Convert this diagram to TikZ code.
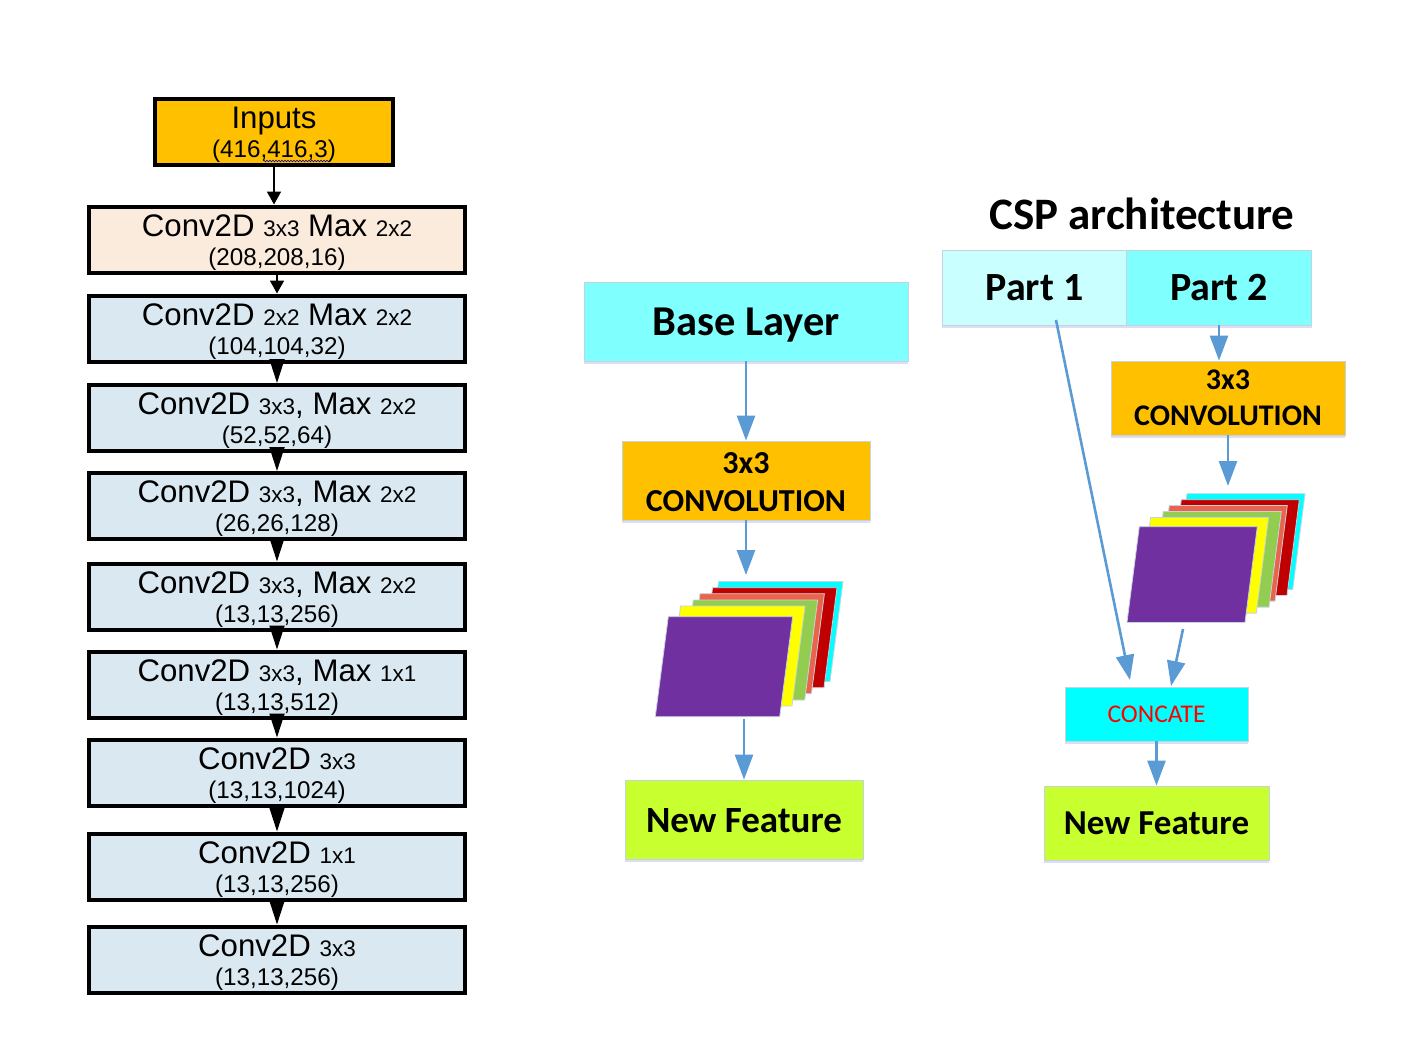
\documentclass[tikz,border=0pt]{standalone}
\usepackage{fontspec}
\setmainfont{Liberation Sans}
\newfontfamily\calib{Carlito}
\usetikzlibrary{arrows.meta,shadows,decorations.pathmorphing}
\newcommand\fsz[1]{\fontsize{#1}{#1}\selectfont}
\newcommand\fbg{\fsz{31.2}}
\newcommand\fsm{\fsz{22.5}}
\newcommand\fdm{\fsz{24.2}}
\newcommand\topfix{\rule{0pt}{27.5pt}}
\newcommand\layer[8]{\draw[layeredge,fill=#8] (#1,#2) -- ++(#3,0) -- ++(#4,#5) -- ++(#6,0) -- cycle;}
\tikzset{
  softshadow/.style={drop shadow={shadow xshift=0pt,shadow yshift=-3pt,opacity=.18,fill=blue!50!gray}},
  netbox/.style={draw=black,line width=4pt,minimum width=376pt,minimum height=66pt,inner sep=0pt,align=center,fill=netblue,font=\fbg},
  flatbox/.style={draw=paleedge,line width=.8pt,inner sep=0pt,align=center,softshadow},
  layeredge/.style={draw=paleedge,line width=.8pt},
  blackhead/.style={draw=black,line width=1.8pt,-{Triangle[length=24pt,width=15pt]}},
  smallhead/.style={draw=black,line width=1.8pt,-{Triangle[length=13pt,width=14pt]}},
  bluearrow/.style={draw=arrowblue,line width=2.6pt,-{Triangle[length=25pt,width=18pt]}}
}
\definecolor{netblue}{HTML}{DAE9F1}
\definecolor{netpeach}{HTML}{FBEBDD}
\definecolor{gold}{HTML}{FFC000}
\definecolor{aqua}{HTML}{80FFFF}
\definecolor{paleaqua}{HTML}{C9FFFF}
\definecolor{lime}{HTML}{C8FF2E}
\definecolor{paleedge}{HTML}{C5D3E0}
\definecolor{arrowblue}{HTML}{5B9BD5}
\definecolor{dkred}{HTML}{C00000}
\definecolor{salmon}{HTML}{E9644A}
\definecolor{leaf}{HTML}{92CD50}
\definecolor{violet7}{HTML}{7030A0}
\definecolor{purecyan}{HTML}{00FFFF}
\definecolor{pureyellow}{HTML}{FFFF00}
\definecolor{purered}{HTML}{FF0000}
\begin{document}
\begin{tikzpicture}[x=1pt,y=-1pt]
\useasboundingbox (0,0) rectangle (1425,1039);
% left network
\node[netbox,fill=gold,minimum width=238pt] (in) at (274,132) {\topfix Inputs\\[-2pt]\fdm (416,416,3)};
\node[netbox,fill=netpeach] (c1) at (277,239.5) {\topfix Conv2D {\fsm 3x3} Max {\fsm 2x2}\\[-2pt]\fdm (208,208,16)};
\node[netbox] (c2) at (277,328.5) {\topfix Conv2D {\fsm 2x2} Max {\fsm 2x2}\\[-2pt]\fdm (104,104,32)};
\node[netbox] (c3) at (277,418) {\topfix Conv2D {\fsm 3x3}, Max {\fsm 2x2}\\[-2pt]\fdm (52,52,64)};
\node[netbox] (c4) at (277,506) {\topfix Conv2D {\fsm 3x3}, Max {\fsm 2x2}\\[-2pt]\fdm (26,26,128)};
\node[netbox] (c5) at (277,596.5) {\topfix Conv2D {\fsm 3x3}, Max {\fsm 2x2}\\[-2pt]\fdm (13,13,256)};
\node[netbox] (c6) at (277,684.5) {\topfix Conv2D {\fsm 3x3}, Max {\fsm 1x1}\\[-2pt]\fdm (13,13,512)};
\node[netbox] (c7) at (277,772.5) {\topfix Conv2D {\fsm 3x3}\\[-2pt]\fdm (13,13,1024)};
\node[netbox] (c8) at (277,866.5) {\topfix Conv2D {\fsm 1x1}\\[-2pt]\fdm (13,13,256)};
\node[netbox] (c9) at (277,959.5) {\topfix Conv2D {\fsm 3x3}\\[-2pt]\fdm (13,13,256)};
\draw[blue!70!black,line width=.6pt,decorate,decoration={snake,amplitude=.8pt,segment length=3pt}] (263,161) -- (330,161);
\draw[smallhead] (in.south) -- (in.south |- c1.north);
\draw[smallhead] (c1.south) -- (c2.north);
\foreach \a/\b in {c2/c3,c3/c4,c4/c5,c5/c6,c6/c7,c7/c8,c8/c9}
  \draw[blackhead] (\a.south) -- (\b.north);
% middle column
\node[flatbox,fill=aqua,minimum width=324pt,minimum height=79pt,font=\calib\bfseries\fsz{42.5}] (base) at (746,321.5) {\rule{0pt}{35pt}Base Layer};
\node[flatbox,fill=gold,minimum width=248pt,minimum height=79pt,font=\calib\bfseries\fsz{32}] (conva) at (746,480.5) {\rule{0pt}{25pt}3x3\\[6pt]CONVOLUTION};
\node[flatbox,fill=lime,minimum width=238pt,minimum height=79pt,font=\calib\bfseries\fsz{37}] (newa) at (744,819.5) {\rule{0pt}{27pt}New Feature};
\layer{718.6}{581.4}{124.4}{-13}{100}{-124.4}{}{purecyan}
\layer{712.6}{587.7}{124.4}{-13}{100}{-124.4}{}{dkred}
\layer{700}{593.7}{124.4}{-13}{100}{-124.4}{}{salmon}
\layer{693.3}{600}{124.4}{-13}{100}{-124.4}{}{leaf}
\layer{680.6}{606}{124.4}{-13}{100}{-124.4}{}{pureyellow}
\layer{668.3}{616.7}{124.4}{-13}{100}{-124.4}{}{violet7}
\coordinate (stackaIn) at (746,575);
\coordinate (stackaOut) at (744,719);
\draw[bluearrow] (base.south) -- (conva.north);
\draw[bluearrow] (conva.south) -- (stackaIn);
\draw[bluearrow] (stackaOut) -- (newa.north);
% right column
\node[font=\calib\bfseries\fsz{45}] (title) at (1142,214) {CSP architecture};
\node[flatbox,fill=paleaqua,minimum width=185pt,minimum height=75pt,font=\calib\bfseries\fsz{40}] (p1) at (1034.5,287.5) {Part 1};
\node[flatbox,fill=aqua,minimum width=185pt,minimum height=75pt,font=\calib\bfseries\fsz{40}] (p2) at (1219,287.5) {Part 2};
\node[flatbox,fill=gold,minimum width=234pt,minimum height=74pt,font=\calib\bfseries\fsz{30}] (convb) at (1228,398) {3x3\\[6pt]CONVOLUTION};
\layer{1187}{493.7}{118}{-12.3}{95.7}{-118}{}{purecyan}
\layer{1181.3}{499.7}{118}{-12.3}{95.7}{-118}{}{dkred}
\layer{1169.3}{505.4}{118}{-12.3}{95.7}{-118}{}{salmon}
\layer{1163.3}{511.4}{118}{-12.3}{95.7}{-118}{}{leaf}
\layer{1150.6}{517.4}{118}{-12.3}{95.7}{-118}{}{pureyellow}
\layer{1139.3}{526.7}{118}{-12.3}{95.7}{-118}{}{violet7}
\node[flatbox,fill=purecyan,minimum width=183pt,minimum height=54pt,text=purered,font=\calib\fsz{25.5}] (concat) at (1156.5,714) {CONCATE};
\node[flatbox,fill=lime,minimum width=225pt,minimum height=74pt,font=\calib\bfseries\fsz{35}] (newb) at (1156.5,823) {New Feature};
\coordinate (stackbIn) at (1228,486);
\coordinate (stackbOut) at (1183,629);
\coordinate (partStart) at (1056,320);
\coordinate (concatL) at (1130,680);
\coordinate (concatR) at (1171,686);
\draw[bluearrow] (p2.south) -- (p2.south |- convb.north);
\draw[bluearrow] (convb.south) -- (stackbIn);
\draw[bluearrow] (partStart) -- (concatL);
\draw[bluearrow] (stackbOut) -- (concatR);
\draw[bluearrow] (concat.south) -- (newb.north);
\end{tikzpicture}
\end{document}
